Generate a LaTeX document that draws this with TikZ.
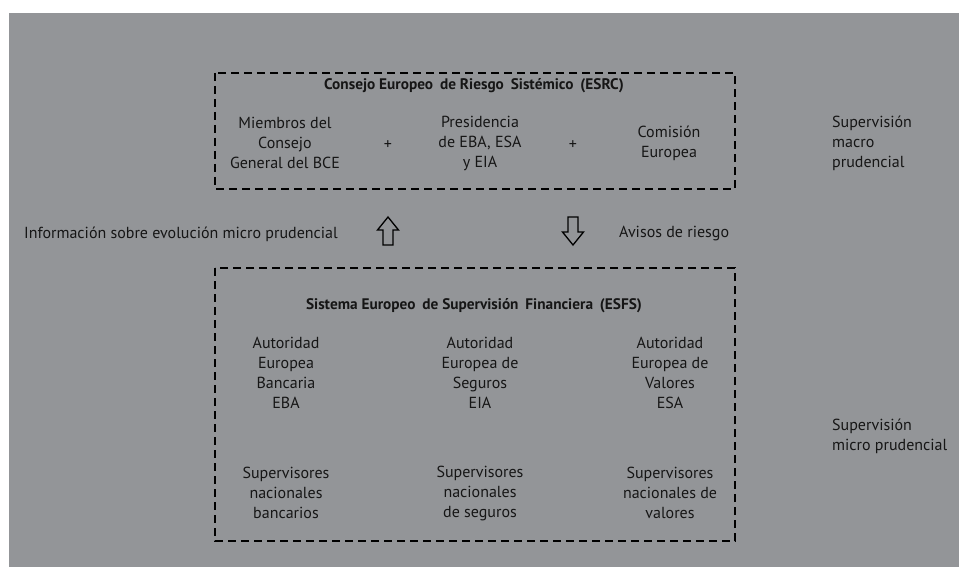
\documentclass[tikz,border=0pt]{standalone}
\usepackage{fontspec}
\setmainfont{PT Sans}
\definecolor{bggray}{HTML}{939598}
\definecolor{ink}{HTML}{161616}
\newcommand{\gapw}{\hspace{0.45em}}
\tikzset{
  txt/.style={text=ink, align=center, inner sep=0pt, font=\fontsize{16}{20}\selectfont},
  ltxt/.style={txt, align=left, anchor=west},
  ttl/.style={txt, font=\fontsize{15.3}{20}\selectfont\bfseries},
  dbox/.style={draw=black, line width=2.4pt, dash pattern=on 8pt off 5pt},
  blockarrow/.style={draw=black, line width=1.3pt, line join=miter, fill=bggray}
}
\begin{document}
\begin{tikzpicture}[x=1pt,y=-1pt]
\useasboundingbox (0,0) rectangle (959,567);
\fill[bggray] (9,13) rectangle (959,567);
% boxes
\draw[dbox] (215,73) rectangle (735,189);
\draw[dbox] (215,268) rectangle (735,541);
% top box
\node[ttl] (esrc) at (474,86) {Consejo Europeo\gapw de Riesgo\gapw Sistémico\gapw (ESRC)};
\node[txt] (miem) at (285,143) {Miembros del\\Consejo\\General del BCE};
\node[txt] (plus1) at (388,145) {+};
\node[txt] (pres) at (480,143) {Presidencia\\de EBA, ESA\\y EIA};
\node[txt] (plus2) at (573,145) {+};
\node[txt] (comi) at (669,143) {Comisión\\Europea};
\node[ltxt] (macro) at (832,143) {Supervisión\\macro\\prudencial};
% middle
\node[ltxt] (info) at (24,234) {Información sobre evolución micro prudencial};
\coordinate (up) at (388,231);
\coordinate (down) at (573,231);
\draw[blockarrow, shift={(up)}] (0,-14) -- (10.5,-1) -- (5,-1) -- (5,14) -- (-5,14) -- (-5,-1) -- (-10.5,-1) -- cycle;
\draw[blockarrow, shift={(down)}] (0,14) -- (10.5,1) -- (5,1) -- (5,-14) -- (-5,-14) -- (-5,1) -- (-10.5,1) -- cycle;
\node[ltxt] (avisos) at (619,234) {Avisos de riesgo};
% bottom box
\node[ttl] (esfs) at (474,306) {Sistema Europeo\gapw de Supervisión\gapw Financiera\gapw (ESFS)};
\node[txt] (eba) at (286,373) {Autoridad\\Europea\\Bancaria\\EBA};
\node[txt] (eia) at (480,373) {Autoridad\\Europea de\\Seguros\\EIA};
\node[txt] (esa) at (670,373) {Autoridad\\Europea de\\Valores\\ESA};
\node[txt] (snb) at (286,493) {Supervisores\\nacionales\\bancarios};
\node[txt] (sns) at (480,493) {Supervisores\\nacionales\\de seguros};
\node[txt] (snv) at (670,493) {Supervisores\\nacionales de\\valores};
\node[ltxt] (micro) at (832,436) {Supervisión\\micro prudencial};
\end{tikzpicture}
\end{document}
